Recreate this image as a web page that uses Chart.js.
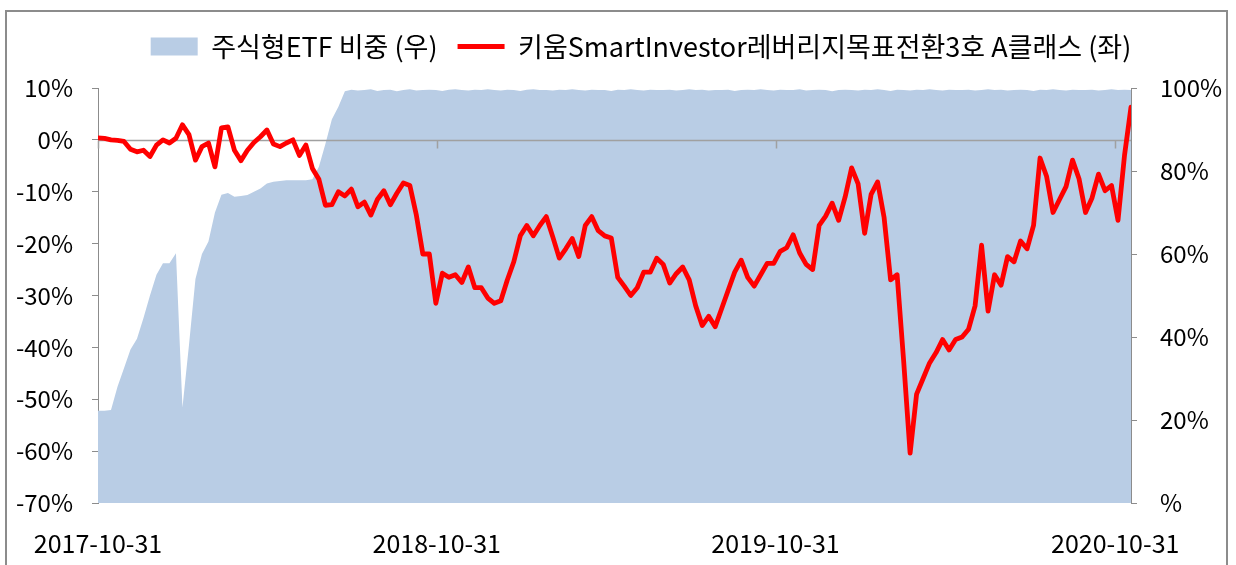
<!DOCTYPE html>
<html>
<head>
<meta charset="utf-8">
<script src="https://cdn.jsdelivr.net/npm/chart.js@4.4.1/dist/chart.umd.min.js"></script>
<style>
html, body { margin: 0; padding: 0; background: #fff; }
#wrap { position: relative; width: 1236px; height: 565px; overflow: hidden; }
#frame { position: absolute; left: 5px; top: 10px; width: 1223px; height: 600px; border: 2px solid #8c8c8c; box-sizing: border-box; }
canvas { position: absolute; left: 0; top: 0; }
</style>
</head>
<body>
<div id="wrap">
  <div id="frame"></div>
  <canvas id="myChart" width="1236" height="565"></canvas>
</div>
<script>
// weekly data, first point 2017-10-31
const seriesNames = ['주식형ETF 비중 (우)', '키움SmartInvestor레버리지목표전환3호 A클래스 (좌)'];
const startDate = '2017-10-31';
const tickLabels = ['2017-10-31', '2018-10-31', '2019-10-31', '2020-10-31'];

// equity ETF weight, % (right axis)
const etfWeight = [
  22.2, 22.2, 22.4, 28.0, 32.5, 37.0, 39.6, 44.6, 50.0, 55.0,
  57.8, 57.8, 60.2, 23.0, 38.0, 54.0, 60.0, 63.0, 70.0, 74.3,
  74.7, 73.8, 74.0, 74.2, 75.0, 75.8, 77.0, 77.4, 77.6, 77.8,
  77.8, 77.8, 77.8, 78.0, 81.0, 86.5, 92.5, 95.5, 99.2, 99.6,
  99.4, 99.5, 99.7, 99.3, 99.5, 99.6, 99.2, 99.5, 99.7, 99.4,
  99.5, 99.6, 99.5, 99.3, 99.6, 99.7, 99.5, 99.4, 99.6, 99.5,
  99.7, 99.5, 99.4, 99.6, 99.5, 99.3, 99.6, 99.7, 99.5, 99.5,
  99.4, 99.6, 99.5, 99.7, 99.5, 99.4, 99.6, 99.5, 99.5, 99.3,
  99.6, 99.5, 99.7, 99.5, 99.4, 99.6, 99.5, 99.5, 99.6, 99.4,
  99.5, 99.7, 99.5, 99.6, 99.4, 99.5, 99.5, 99.6, 99.3, 99.5,
  99.6, 99.5, 99.7, 99.5, 99.4, 99.6, 99.5, 99.5, 99.7, 99.4,
  99.5, 99.6, 99.5, 99.2, 99.5, 99.6, 99.5, 99.4, 99.6, 99.5,
  99.7, 99.5, 99.3, 99.6, 99.5, 99.4, 99.6, 99.5, 99.7, 99.5,
  99.4, 99.6, 99.5, 99.5, 99.6, 99.4, 99.5, 99.7, 99.5, 99.6,
  99.4, 99.5, 99.6, 99.5, 99.3, 99.6, 99.5, 99.7, 99.5, 99.4,
  99.6, 99.5, 99.5, 99.6, 99.4, 99.5, 99.7, 99.5, 99.6, 99.5
];

// fund cumulative return, % (left axis)
const fundReturn = [
  0.4, 0.3, 0.0, -0.1, -0.3, -1.8, -2.3, -2.0, -3.2, -1.0,
  0.0, -0.6, 0.3, 2.9, 1.0, -3.9, -1.3, -0.6, -5.2, 2.3,
  2.5, -2.0, -4.0, -2.0, -0.5, 0.6, 1.9, -0.8, -1.3, -0.6,
  0.0, -3.0, -1.0, -5.5, -7.6, -12.6, -12.5, -10.0, -10.8, -9.5,
  -12.9, -12.0, -14.5, -11.5, -9.8, -12.5, -10.3, -8.3, -8.8, -14.5,
  -22.0, -22.0, -31.5, -25.7, -26.5, -26.0, -27.5, -24.5, -28.5, -28.5,
  -30.5, -31.5, -31.0, -27.0, -23.5, -18.5, -16.5, -18.5, -16.5, -14.8,
  -18.7, -22.8, -21.0, -19.0, -22.5, -16.5, -14.8, -17.5, -18.5, -18.9,
  -26.5, -28.2, -30.0, -28.5, -25.5, -25.5, -22.8, -24.0, -27.6, -25.8,
  -24.5, -27.0, -32.0, -35.8, -34.0, -36.0, -32.5, -29.0, -25.5, -23.2,
  -26.5, -28.2, -26.0, -23.8, -23.8, -21.5, -20.8, -18.3, -21.8, -24.0,
  -25.0, -16.5, -14.7, -12.2, -15.5, -11.0, -5.4, -8.5, -18.0, -10.5,
  -8.1, -15.0, -27.0, -26.0, -42.5, -60.4, -49.0, -46.0, -43.0, -41.0,
  -38.5, -40.5, -38.5, -38.0, -36.5, -32.0, -20.3, -33.0, -26.0, -28.0,
  -22.5, -23.5, -19.5, -21.0, -16.5, -3.5, -7.0, -14.0, -11.5, -9.0,
  -3.9, -7.5, -14.0, -11.2, -6.6, -9.8, -8.8, -15.5, -3.0, 6.3
];

const FONT = "'Noto Sans CJK KR', 'Noto Sans', sans-serif";

function daysFromStart(s) {
    return (Date.parse(s) - Date.parse(startDate)) / 86400000;
}

// horizontal line at 0% with small tick marks, drawn over the area but under the red line
const zeroLine = {
    id: 'zeroLine',
    afterDatasetDraw(chart, args) {
        if (args.index !== 0) return;
        const { ctx, chartArea, scales } = chart;
        const y0 = Math.round(scales.y.getPixelForValue(0)) + 0.5;
        ctx.save();
        ctx.strokeStyle = '#a0a0a0';
        ctx.lineWidth = 1.5;
        ctx.beginPath();
        ctx.moveTo(chartArea.left, y0);
        ctx.lineTo(chartArea.right, y0);
        scales.x.ticks.forEach(t => {
            const x = Math.round(scales.x.getPixelForValue(t.value)) + 0.5;
            ctx.moveTo(x, y0);
            ctx.lineTo(x, y0 + 8);
        });
        ctx.stroke();
        ctx.restore();
    }
};

// extra room under the legend, and move it a little to the right
const legendGap = {
    id: 'legendGap',
    afterInit(chart) {
        const fit = chart.legend.fit;
        chart.legend.fit = function () {
            fit.call(this);
            this.height += 18;
        };
    },
    afterLayout(chart) {
        chart.legend.left += 23;
        chart.legend.right += 23;
    }
};

const axisGray = '#8c8c8c';

new Chart(document.getElementById('myChart').getContext('2d'), {
    type: 'line',
    data: {
        datasets: [{
            label: seriesNames[0],
            data: etfWeight.map((v, i) => ({ x: i * 7, y: v })),
            yAxisID: 'y1',
            backgroundColor: '#b9cde5',
            borderColor: '#b9cde5',
            borderWidth: 0,
            pointRadius: 0,
            fill: 'start',
            order: 1
        }, {
            label: seriesNames[1],
            data: fundReturn.map((v, i) => ({ x: i * 7, y: v })),
            yAxisID: 'y',
            borderColor: '#ff0000',
            backgroundColor: '#ff0000',
            borderWidth: 4.8,
            borderJoinStyle: 'round',
            borderCapStyle: 'round',
            pointRadius: 0,
            tension: 0,
            fill: false,
            order: 0
        }]
    },
    options: {
        responsive: false,
        animation: false,
        layout: { padding: { left: 0, right: 0, top: 13, bottom: 0 } },
        plugins: {
            legend: {
                position: 'top',
                labels: {
                    usePointStyle: true,
                    pointStyleWidth: 47,
                    boxHeight: 18,
                    padding: 20,
                    color: '#000',
                    font: { family: FONT, size: 27 },
                    sort: (a, b) => a.datasetIndex - b.datasetIndex,
                    generateLabels(chart) {
                        const items = Chart.defaults.plugins.legend.labels.generateLabels(chart);
                        items.forEach(it => {
                            if (it.datasetIndex === 0) {
                                it.pointStyle = 'rect';
                                it.lineWidth = 0;
                            } else {
                                it.pointStyle = 'line';
                                it.lineWidth = 5;
                            }
                        });
                        return items;
                    }
                }
            },
            tooltip: { enabled: false }
        },
        scales: {
            x: {
                type: 'linear',
                min: 0,
                max: (fundReturn.length - 1) * 7,
                grid: { display: false, drawTicks: false },
                border: { display: false },
                afterBuildTicks(scale) {
                    scale.ticks = tickLabels.map(l => ({ value: daysFromStart(l) }));
                },
                afterFit(scale) { scale.height = 62; },
                ticks: {
                    autoSkip: false,
                    maxRotation: 0,
                    padding: 25,
                    color: '#000',
                    font: { family: FONT, size: 25 },
                    callback(value) {
                        return tickLabels.find(l => daysFromStart(l) === value) || '';
                    }
                }
            },
            y: {
                position: 'left',
                min: -70,
                max: 10,
                z: 1,
                grid: { drawOnChartArea: false, drawTicks: true, tickLength: 6, color: axisGray },
                border: { display: true, color: axisGray, width: 1 },
                afterFit(scale) { scale.width = 98; },
                ticks: {
                    stepSize: 10,
                    padding: 19,
                    color: '#000',
                    font: { family: FONT, size: 24 },
                    callback: v => v + '%'
                }
            },
            y1: {
                position: 'right',
                min: 0,
                max: 100,
                z: 1,
                grid: { drawOnChartArea: false, drawTicks: true, tickLength: 6, color: axisGray },
                border: { display: true, color: axisGray, width: 1 },
                afterFit(scale) { scale.width = 105; },
                ticks: {
                    stepSize: 20,
                    padding: 23,
                    color: '#000',
                    font: { family: FONT, size: 24 },
                    callback: v => (v === 0 ? '%' : v + '%')
                }
            }
        }
    },
    plugins: [zeroLine, legendGap]
});
</script>
</body>
</html>
